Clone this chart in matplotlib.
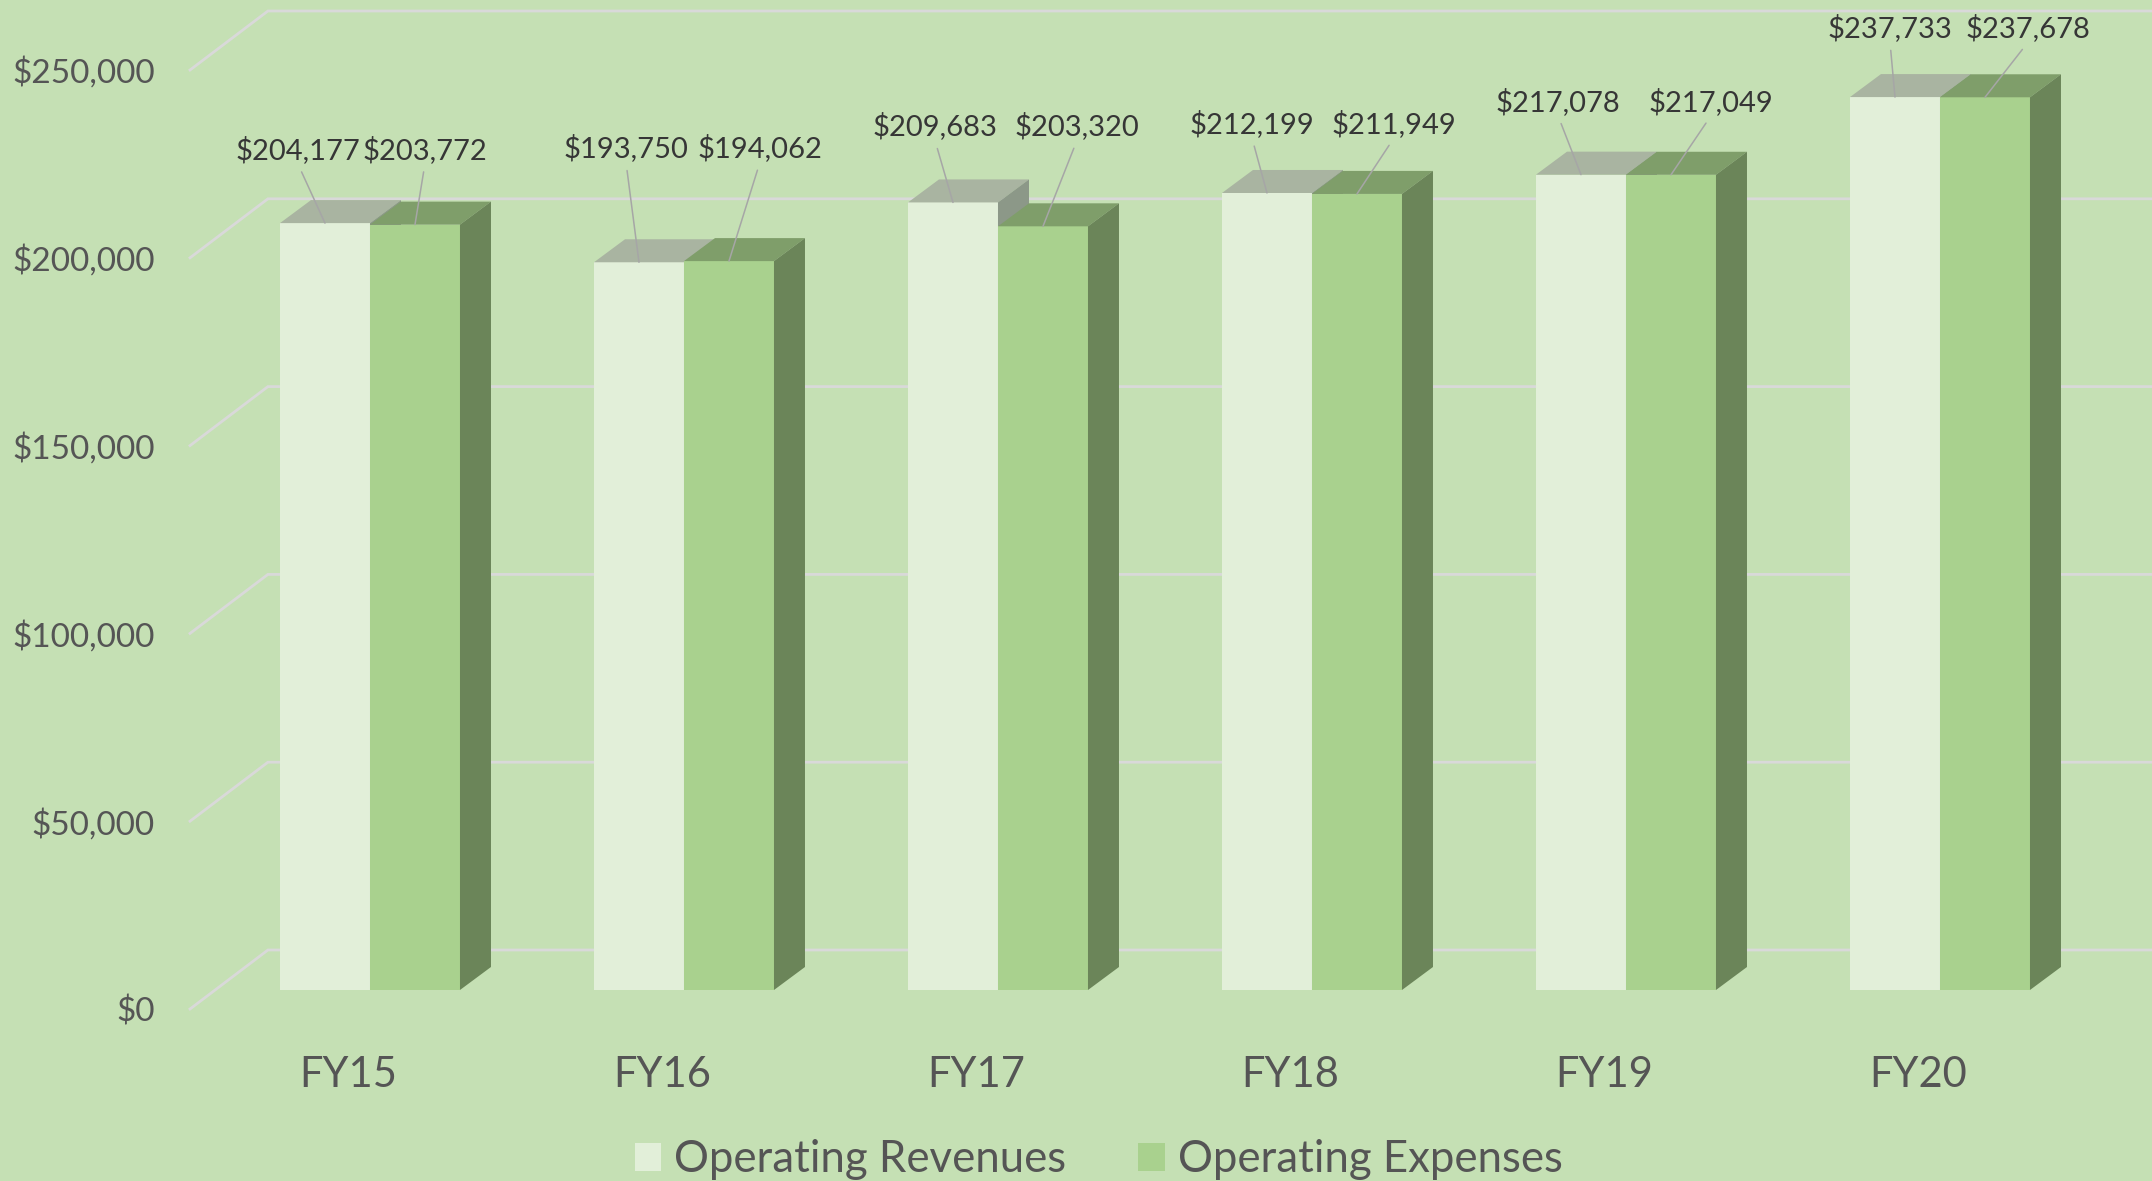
import matplotlib
matplotlib.use('Agg')
import matplotlib.pyplot as plt
from matplotlib.patches import Polygon, Patch
from matplotlib.transforms import IdentityTransform, blended_transform_factory
import numpy as np

# ---------------- data ----------------
categories = ['FY15', 'FY16', 'FY17', 'FY18', 'FY19', 'FY20']
revenues = [204177, 193750, 209683, 212199, 217078, 237733]
expenses = [203772, 194062, 203320, 211949, 217049, 237678]
series_names = ['Operating Revenues', 'Operating Expenses']
y_ticks = [0, 50000, 100000, 150000, 200000, 250000]
y_tick_labels = ['$0', '$50,000', '$100,000', '$150,000', '$200,000', '$250,000']

# ---------------- style ----------------
BG = '#C5E0B4'
REV_FRONT, REV_TOP, REV_SIDE = '#E2EFD9', '#A9B4A1', '#8C9888'
EXP_FRONT, EXP_TOP, EXP_SIDE = '#A9D18E', '#7F9E6A', '#6B8559'
GRID = '#D9D9D9'
TXT = '#555555'
LBL = '#363636'
LEADER = '#A6A6A6'
FONT = ['Lato', 'DejaVu Sans']
plt.rcParams['font.family'] = FONT

# label offsets (pixels, right / up) from bar top-front centre
rev_lbl_off = [(-27, 73), (-13, 114), (-18, 76), (-15, 69), (-23, 73), (-5, 69)]
exp_lbl_off = [(10, 75), (31, 113), (34, 100), (37, 70), (40, 73), (43, 69)]

DX, DY = 31, 23          # depth offset of bar top/side (pixels)
WALL_UP = 40             # back wall offset above front plane (pixels)
FLOOR_DN = 19            # front floor edge below front plane (pixels)
BAR_W = 0.2866           # width of one bar in category units

fig = plt.figure(figsize=(21.52, 11.81), dpi=100, facecolor=BG)
ax = fig.add_axes([0, 0, 1, 1])
ax.set_facecolor(BG)
ax.set_xlim(-1.1783, 5.6752)
ax.set_ylim(-50852, 263578)
ax.axis('off')

ident = IdentityTransform()
blend = blended_transform_factory(ax.transAxes, ax.transData)
WALL_X0, FRONT_X0 = 0.1245, 0.0883

# back-wall gridlines with the left floor diagonal
for v in y_ticks:
    a = blend.transform((FRONT_X0, v)) + np.array([0, -FLOOR_DN])
    b = blend.transform((WALL_X0, v)) + np.array([0, WALL_UP])
    c = blend.transform((1.0, v)) + np.array([0, WALL_UP])
    ax.plot([a[0], b[0], c[0]], [a[1], b[1], c[1]], color=GRID, lw=2.0,
            transform=ident, zorder=1, solid_joinstyle='miter')

# tick labels
for v, t in zip(y_ticks, y_tick_labels):
    ax.annotate(t, xy=(0.072, v), xycoords=('axes fraction', 'data'),
                xytext=(0, -22), textcoords='offset pixels',
                ha='right', va='center', fontsize=24, color=TXT)

x = np.arange(len(categories))
lefts = [x - BAR_W, x]
series = [revenues, expenses]
fronts = [REV_FRONT, EXP_FRONT]
tops = [REV_TOP, EXP_TOP]
sides = [REV_SIDE, EXP_SIDE]
offs = [rev_lbl_off, exp_lbl_off]
d = np.array([DX, DY])

for k in range(2):
    z = 2 + k
    ax.bar(lefts[k], series[k], width=BAR_W, align='edge', color=fronts[k],
           zorder=z, linewidth=0)
    for i, v in enumerate(series[k]):
        xl = lefts[k][i]
        p0 = ax.transData.transform((xl, v))
        p1 = ax.transData.transform((xl + BAR_W, v))
        pb = ax.transData.transform((xl + BAR_W, 0))
        ax.add_patch(Polygon([p0, p1, p1 + d, p0 + d], closed=True,
                             facecolor=tops[k], edgecolor='none',
                             transform=ident, zorder=z))
        ax.add_patch(Polygon([pb, p1, p1 + d, pb + d], closed=True,
                             facecolor=sides[k], edgecolor='none',
                             transform=ident, zorder=z))
        ox, oy = offs[k][i]
        ax.annotate(f'${v:,.0f}', xy=(xl + BAR_W / 2, v), xycoords='data',
                    xytext=(ox, oy), textcoords='offset pixels',
                    ha='center', va='center', fontsize=21, color=LBL, zorder=10,
                    arrowprops=dict(arrowstyle='-', color=LEADER, lw=1.1,
                                    shrinkA=4, shrinkB=0, relpos=(0.5, 0)))

# category labels
for i, c in enumerate(categories):
    ax.annotate(c, xy=(x[i], 0), xycoords='data', xytext=(-22, -85),
                textcoords='offset pixels', ha='center', va='center',
                fontsize=30, color=TXT)

handles = [Patch(facecolor=REV_FRONT, edgecolor='none'),
           Patch(facecolor=EXP_FRONT, edgecolor='none')]
fig.legend(handles, series_names, loc='center', bbox_to_anchor=(0.5105, 0.018),
           ncol=2, frameon=False, fontsize=31.5, labelcolor=TXT,
           handlelength=0.6, handleheight=0.6, handletextpad=0.3,
           columnspacing=1.65, borderpad=0, borderaxespad=0)

fig.savefig('out.png', dpi=100, facecolor=BG)
